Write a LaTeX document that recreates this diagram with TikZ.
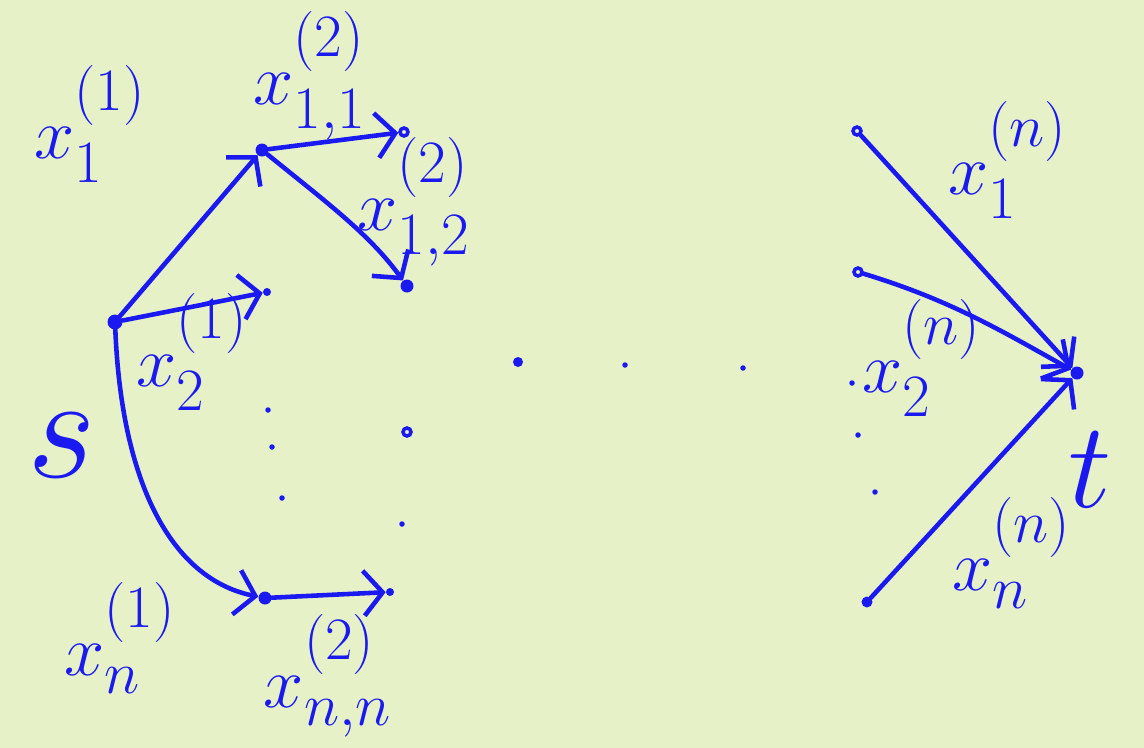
\documentclass[tikz,border=0pt]{standalone}
\usepackage{amsmath}
\usetikzlibrary{arrows.meta}

% colours
\definecolor{ink}{HTML}{1A1AF0}
\definecolor{paper}{HTML}{E7F1C8}

% handwritten-size label text
\newcommand{\hand}[2][1.65]{\scalebox{#1}{\Huge #2}}
% x with a raised superscript (as written by hand)
\newcommand{\xlab}[2]{$x^{\raisebox{0.3em}{$\scriptstyle(#1)$}}_{#2}$}

\begin{document}
\begin{tikzpicture}[x=0.02cm, y=-0.02cm,
  dot/.style={circle, fill=ink, inner sep=0pt, minimum size=#1},
  dot/.default=0.26cm,
  ring/.style={circle, draw=ink, line width=2pt, inner sep=0pt, minimum size=0.16cm},
  speck/.style={circle, fill=ink, inner sep=0pt, minimum size=0.11cm},
  flow/.style={ink, line width=2.6pt, line cap=round, line join=round,
    -{Straight Barb[length=0.38cm, width=0.9cm, line width=2.6pt]}},
  lbl/.style={text=ink, inner sep=0pt},
]

% background (fixes the page size)
\fill[paper] (0,0) rectangle (1144,748);

%%%%%% SOURCE AND FIRST COLUMN
\node[dot=0.3cm]  (s)  at (115,322) {};
\node[dot]        (a1) at (262,150) {};
\node[dot=0.16cm] (a2) at (267,292) {};
\node[speck]      (ad1) at (268,410) {};
\node[speck]      (ad2) at (272,447) {};
\node[speck]      (ad3) at (282,498) {};
\node[dot]        (an) at (265,598) {};

%%%%%% SECOND COLUMN
\node[ring]       (b1) at (404,132) {};
\node[dot]        (b2) at (407,286) {};
\node[ring]       (b3) at (407,432) {};
\node[speck]      (bd) at (402,524) {};
\node[dot=0.16cm] (bn) at (390,592) {};

%%%%%% MIDDLE DOTS
\node[dot=0.2cm]  (m1) at (518,362) {};
\node[speck]      (m2) at (625,365) {};
\node[speck]      (m3) at (743,368) {};

%%%%%% LAST COLUMN AND SINK
\node[ring]       (c1) at (857,131) {};
\node[ring]       (c2) at (858,272) {};
\node[speck]      (cd1) at (852,383) {};
\node[speck]      (cd2) at (858,435) {};
\node[speck]      (cd3) at (875,492) {};
\node[dot=0.22cm] (cn) at (867,602) {};
\node[dot]        (t)  at (1077,373) {};

%%%%%% DRAW EDGES
\draw[flow] (s) -- (a1);
\draw[flow] (s) -- (a2);
\draw[flow] (s) .. controls (122,490) and (175,580) .. (an);
\draw[flow] (a1) -- (b1);
\draw[flow] (a1) .. controls (330,205) and (370,235) .. (b2);
\draw[flow] (an) -- (bn);
\draw[flow] (c1) -- (t);
\draw[flow] (c2) .. controls (950,300) and (1000,330) .. (t);
\draw[flow] (cn) -- (t);

%%%%%% LABELS
\node[lbl] (ls)    at (62,445)  {\hand[3.4]{$s$}};
\node[lbl] (lx11)  at (90,124)  {\hand{\xlab{1}{1}}};
\node[lbl] (lx12)  at (192,352) {\hand{\xlab{1}{2}}};
\node[lbl] (lx1n)  at (120,638) {\hand{\xlab{1}{n}}};
\node[lbl] (lx211) at (310,76)  {\hand{\xlab{2}{1,1}}};
\node[lbl] (lx212) at (414,202) {\hand{\xlab{2}{1,2}}};
\node[lbl] (lx2nn) at (328,676) {\hand{\xlab{2}{n,n}}};
\node[lbl] (lxn1)  at (1008,160) {\hand{\xlab{n}{1}}};
\node[lbl] (lxn2)  at (922,358) {\hand{\xlab{n}{2}}};
\node[lbl] (lxnn)  at (1012,553) {\hand{\xlab{n}{n}}};
\node[lbl] (lt)    at (1090,470) {\hand[2.8]{$t$}};

\end{tikzpicture}
\end{document}
